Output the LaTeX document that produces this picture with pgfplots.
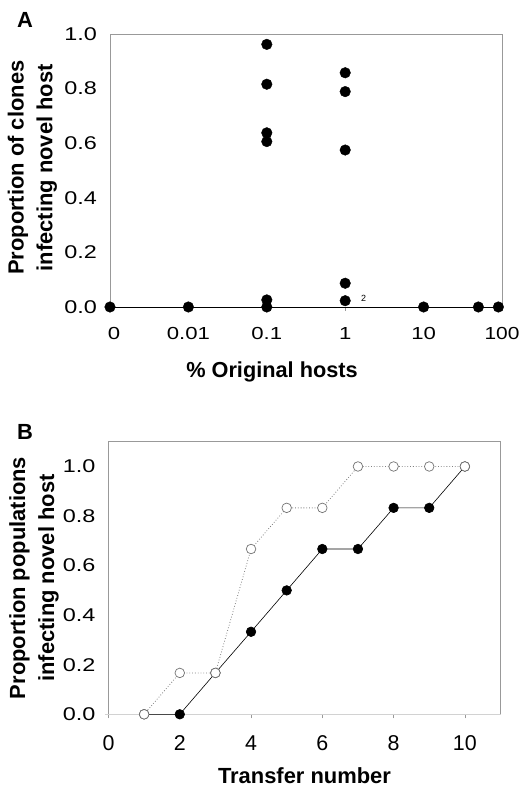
\documentclass[border=0pt]{standalone}
\usepackage{fontspec}
\setmainfont{Liberation Sans}
\usepackage{graphicx}
\usepackage{pgfplots}
\pgfplotsset{compat=1.18}
\newcommand{\hs}[1]{\scalebox{1.27}[1]{#1}}
\begin{document}
\begin{tikzpicture}
\useasboundingbox (0bp,0bp) rectangle (519bp,789bp);
\pgfplotsset{
  common/.style={
    scale only axis, width=392bp,
    axis line style={gray!80, line width=0.7bp},
    xtick pos=bottom, ytick pos=left,
    tick align=outside, major tick length=4bp,
    xtick style={gray!80, line width=0.6bp},
    ytick style={draw=none},
    yticklabel style={font=\fontsize{18.5}{20}\selectfont, inner sep=0pt, xshift=-9bp},
    xticklabel style={inner sep=0pt},
    clip=false,
    ytick={0,0.2,0.4,0.6,0.8,1.0},
    yticklabels={\hs{0.0},\hs{0.2},\hs{0.4},\hs{0.6},\hs{0.8},\hs{1.0}},
    every axis y label/.style={rotate=90, anchor=center, align=center, font=\bfseries\fontsize{22}{29}\selectfont},
  }
}
% Panel A
\begin{axis}[common, at={(110bp,482bp)}, anchor=south west, height=273bp,
  xmin=-3, xmax=2, ymin=0, ymax=1,
  xtick={-3,-2,-1,0,1,2},
  xticklabels={\hspace*{8bp}\raisebox{3bp}{\hs{0}},\hs{0.01},\hs{0.1},\raisebox{1bp}{\hs{1}},\hs{10},\raisebox{7bp}{\scalebox{1.2}[1]{100}}},
  xticklabel style={font=\fontsize{17.5}{19}\selectfont, yshift=-16bp},
  ylabel={Proportion of clones\\infecting novel host},
  y label style={at={(axis description cs:-0.198,0.51)}},
]
\draw[black, line width=0.8bp] (axis cs:-3,0) -- (axis cs:2,0);
\addplot[only marks, mark=*, mark size=5.3bp, black] coordinates {
(-3,0) (-2,0)
(-1,0.962) (-1,0.816) (-1,0.638) (-1,0.606) (-1,0.026) (-1,0.0)
(0,0.858) (0,0.789) (0,0.575) (0,0.087) (0,0.023)
(1,0) (1.699,0) (1.954,0)
};
\node[font=\fontsize{9}{10}\selectfont, inner sep=0pt] at (axis cs:0.235,0.03) {2};
\end{axis}
\node[font=\bfseries\fontsize{22}{24}\selectfont, inner sep=0pt] at (25bp,769bp) {A};
% Panel B
\begin{axis}[common, at={(108.5bp,74.7bp)}, anchor=south west, height=272.6bp,
  xmin=0, xmax=11, ymin=0, ymax=1.1,
  xtick={0,2,4,6,8,10},
  xticklabels={0,2,4,6,8,10},
  xticklabel style={font=\fontsize{21.5}{23}\selectfont, yshift=-17bp},
  ylabel={Proportion populations\\infecting novel host},
  y label style={at={(axis description cs:-0.19,0.5)}},
  xlabel={Transfer number},
  x label style={font=\bfseries\fontsize{22}{24}\selectfont, at={(axis description cs:0.5,0)}, anchor=center, yshift=-61bp},
]
\draw[gray!35, line width=1bp] (axis cs:-0.1,0) -- (axis cs:11,0);
\addplot[black, line width=0.6bp, mark=*, mark size=4.8bp] coordinates {
(1,0) (2,0) (3,0.167) (4,0.333) (5,0.5) (6,0.667) (7,0.667) (8,0.833) (9,0.833) (10,1.0)
};
\addplot[gray, dotted, line width=0.8bp, mark=*, mark size=4.8bp, mark options={solid, fill=white, draw=gray!90!black, line width=0.7bp}] coordinates {
(1,0) (2,0.167) (3,0.167) (4,0.667) (5,0.833) (6,0.833) (7,1.0) (8,1.0) (9,1.0) (10,1.0)
};
\end{axis}
\node[font=\bfseries\fontsize{22}{24}\selectfont, inner sep=0pt] at (25bp,357bp) {B};
\node[font=\bfseries\fontsize{21.8}{24}\selectfont, inner sep=0pt] at (272bp,417bp) {\% Original hosts};
\end{tikzpicture}
\end{document}
